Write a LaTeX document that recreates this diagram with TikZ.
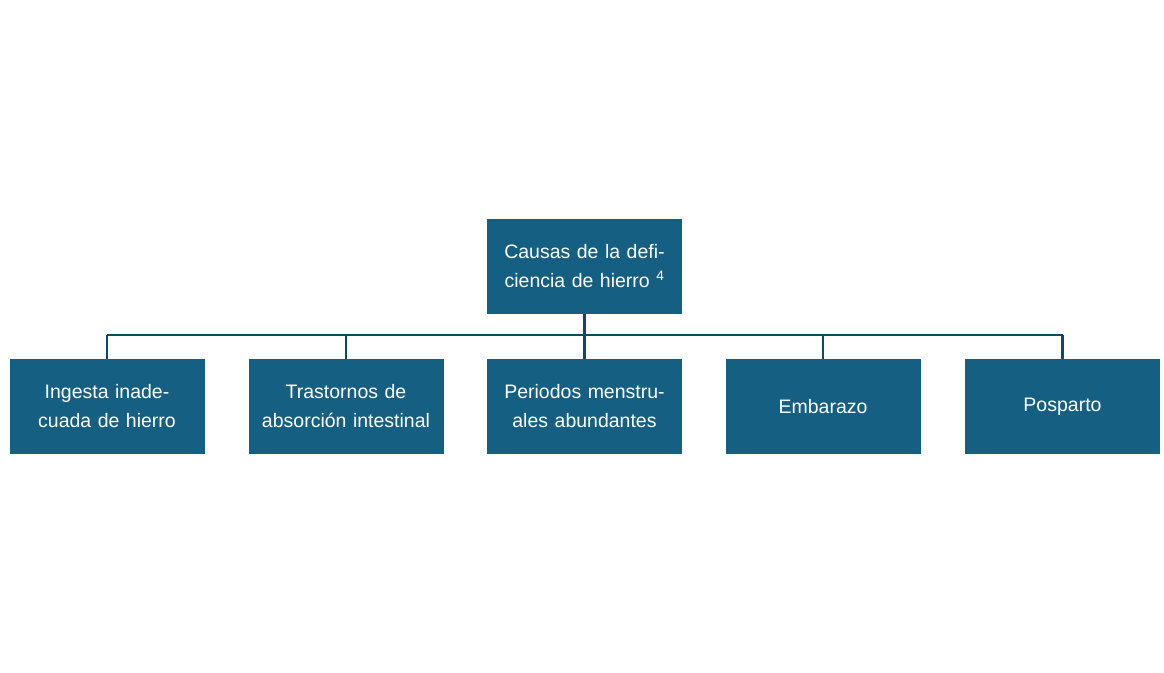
\documentclass[tikz,border=0pt]{standalone}
\usepackage{fontspec}
\setmainfont{Liberation Sans}
\begin{document}
\begin{tikzpicture}[x=1pt,y=-1pt,
  box/.style={fill={rgb,255:red,21;green,96;blue,130}, text=white, minimum width=195pt, minimum height=95pt, inner sep=2pt, text width=190pt, align=center, font=\fontsize{19.5}{29}\selectfont},
  conn/.style={draw={rgb,255:red,14;green,72;blue,100}, line width=2.2pt}]
\useasboundingbox (0,0) rectangle (1164,672);
\node[box] (top) at (584.5,266.5) {Causas de la deficiencia de hierro \textsuperscript{4}};
\node[box] (a) at (107,406.5) {Ingesta inadecuada de hierro};
\node[box] (b) at (346,406.5) {Trastornos de absorción intestinal};
\node[box] (c) at (584.5,406.5) {Periodos menstruales abundantes};
\node[box] (d) at (823,406.5) {Embarazo};
\node[box] (e) at (1062.5,406.5) {Posparto};
\coordinate (j) at (584.5,335);
\draw[conn] (top.south) -- (j);
\foreach \n in {a,b,c,d,e}{\draw[conn] (\n.north) -- (\n.north |- j);}
\draw[conn] (a.north |- j) -- (e.north |- j);
\end{tikzpicture}
\end{document}
